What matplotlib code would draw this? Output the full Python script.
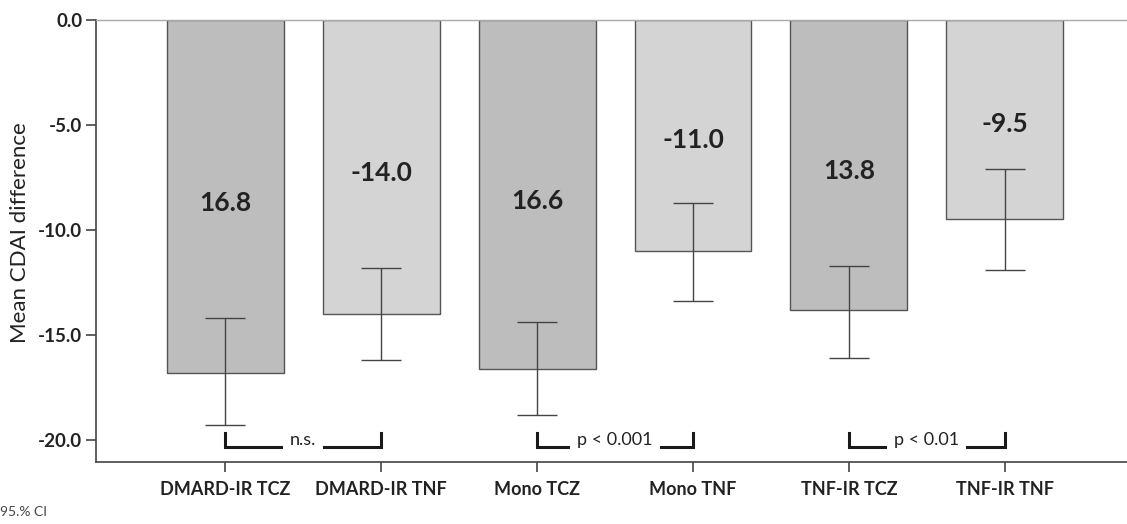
import matplotlib
matplotlib.use("Agg")
import matplotlib.pyplot as plt

# Data
groups = ["DMARD-IR TCZ", "DMARD-IR TNF", "Mono TCZ", "Mono TNF", "TNF-IR TCZ", "TNF-IR TNF"]
means = [-16.8, -14.0, -16.6, -11.0, -13.8, -9.5]
ci_upper = [-14.2, -11.8, -14.4, -8.7, -11.7, -7.1]
ci_lower = [-19.3, -16.2, -18.8, -13.4, -16.1, -11.9]
value_labels = ["16.8", "-14.0", "16.6", "-11.0", "13.8", "-9.5"]
bar_colors = ["#bdbdbd", "#d4d4d4", "#bdbdbd", "#d4d4d4", "#bdbdbd", "#d4d4d4"]

# significance comparisons: (left group, right group, label)
comparisons = [(0, 1, "n.s."), (2, 3, "p < 0.001"), (4, 5, "p < 0.01")]

plt.rcParams["font.family"] = ["Lato", "DejaVu Sans"]

fig = plt.figure(figsize=(11.27, 5.24), dpi=100)
ax = fig.add_axes([0.0852, 0.1183, 0.9148, 0.8435])

x = list(range(len(groups)))
ax.bar(x, means, width=0.75, color=bar_colors, edgecolor="#555555", linewidth=1.0, zorder=2)

err_low = [m - lo for m, lo in zip(means, ci_lower)]
err_high = [hi - m for m, hi in zip(means, ci_upper)]
ax.errorbar(x, means, yerr=[err_low, err_high], fmt="none", ecolor="#444444",
            elinewidth=1.0, capsize=14.4, capthick=1.0, zorder=3)

for xi, m, lab in zip(x, means, value_labels):
    ax.text(xi, m * 0.52, lab, ha="center", va="center", fontsize=19,
            fontweight="bold", color="#222222", zorder=4)

# significance brackets near the bottom
for a, b, lab in comparisons:
    ax.plot([a, a, b, b], [-19.67, -20.33, -20.33, -19.67], color="#1a1a1a",
            linewidth=2.2, solid_joinstyle="miter", zorder=3)
    ax.text((a + b) / 2, -20.0, lab, ha="center", va="center", fontsize=13,
            color="#222222", zorder=4,
            bbox=dict(facecolor="white", edgecolor="none", pad=5))

ax.set_xlim(-0.829, 5.784)
ax.set_ylim(-21.05, 0)
ax.set_yticks([0, -5, -10, -15, -20])
ax.set_yticklabels(["0.0", "-5.0", "-10.0", "-15.0", "-20.0"])
ax.set_xticks(x)
ax.set_xticklabels(groups)
ax.tick_params(axis="y", labelsize=13.5, length=7, width=1.2, color="#444444", pad=3)
ax.tick_params(axis="x", labelsize=13, length=7, width=1.2, color="#444444", pad=7)
for t in ax.get_xticklabels() + ax.get_yticklabels():
    t.set_fontweight("bold")
    t.set_color("#222222")

ax.set_ylabel("Mean CDAI difference", fontsize=16, color="#222222")
ax.yaxis.set_label_coords(-0.064, 0.52)

for side in ["left", "bottom"]:
    ax.spines[side].set_color("#444444")
    ax.spines[side].set_linewidth(1.2)
ax.spines["top"].set_color("#aaaaaa")
ax.spines["top"].set_linewidth(1.0)
ax.spines["right"].set_visible(False)

fig.text(0.0, 0.012, "95.% CI", fontsize=10, color="#444444", ha="left", va="bottom")

fig.savefig("out.png", dpi=100)
